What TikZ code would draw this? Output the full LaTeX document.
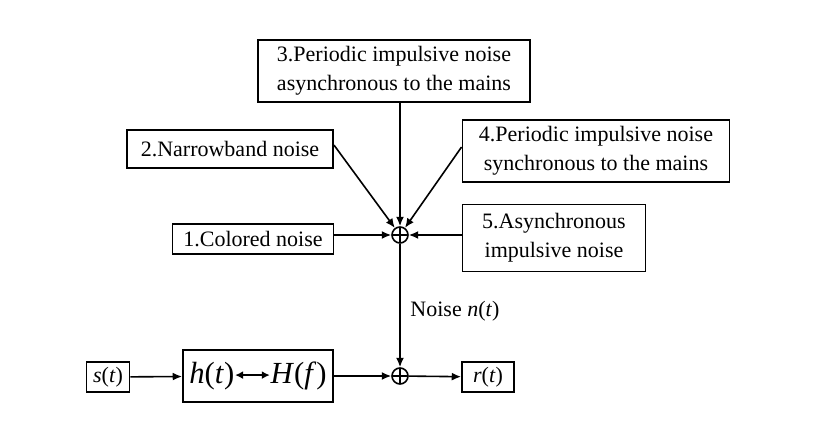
\documentclass[tikz,border=0pt]{standalone}
\usetikzlibrary{arrows.meta}
\usepackage{fontspec}
\setmainfont{Liberation Serif}
\begin{document}
\begin{tikzpicture}[x=0.75pt,y=-0.75pt,
 box/.style={draw,line width=1.4pt,align=center,inner sep=1pt,font=\fontsize{16.5}{22}\selectfont},
 sum/.style={draw,line width=1.2pt,circle,minimum size=12pt,inner sep=0pt,
   path picture={\draw[line width=1.2pt] (path picture bounding box.north) -- (path picture bounding box.south) (path picture bounding box.west) -- (path picture bounding box.east);}},
 arr/.style={line width=1.2pt,-{Latex[length=7pt,width=6pt]}}]
\useasboundingbox (0,0) rectangle (820,438);
\fill[white] (0,0) rectangle (820,438);
\node[box,minimum width=272*0.75pt,minimum height=62*0.75pt] (b3) at (394,71) {3.Periodic impulsive noise\\asynchronous to the mains};
\node[box,minimum width=206*0.75pt,minimum height=38*0.75pt] (b2) at (230,149) {2.Narrowband noise};
\node[box,minimum width=267*0.75pt,minimum height=62*0.75pt] (b4) at (596,151) {4.Periodic impulsive noise\\synchronous to the mains};
\node[box,minimum width=161*0.75pt,minimum height=30*0.75pt] (b1) at (253,239) {1.Colored noise};
\node[box,minimum width=183*0.75pt,minimum height=67*0.75pt] (b5) at (554,238) {5.Asynchronous\\impulsive noise};
\node[sum] (s1) at (400,235) {};
\node[sum] (s2) at (400,376) {};
\node[box,minimum width=43*0.75pt,minimum height=30*0.75pt] (st) at (108,377) {\textit{s}(\textit{t})};
\node[box,minimum width=150*0.75pt,minimum height=52*0.75pt,font=\fontsize{23}{25}\selectfont] (h) at (258,376) {\textit{h}(\textit{t})\tikz[baseline=-0.6ex]\draw[line width=1.3pt,{Latex[length=6pt,width=6pt]}-{Latex[length=6pt,width=6pt]}] (0,0)--(26pt,0);\textit{H}(\textit{f})};
\node[box,minimum width=52*0.75pt,minimum height=30*0.75pt] (rt) at (488,377) {\textit{r}(\textit{t})};
\node[font=\fontsize{16.5}{22}\selectfont] (nl) at (455,311) {Noise \textit{n}(\textit{t})};
\draw[arr] (b3.south -| s1) -- (s1);
\draw[arr] (b2.east) ++(0,-4) coordinate (c2) (c2) -- (s1);
\draw[arr] (b4.west) ++(0,-4) coordinate (c4) (c4) -- (s1);
\draw[arr] (b1.east |- s1) -- (s1);
\draw[arr] (b5.west |- s1) -- (s1);
\draw[arr] (s1) -- (s2);
\draw[arr] (st) -- (h);
\draw[arr] (h) -- (s2);
\draw[arr] (s2) -- (rt);
\end{tikzpicture}
\end{document}
